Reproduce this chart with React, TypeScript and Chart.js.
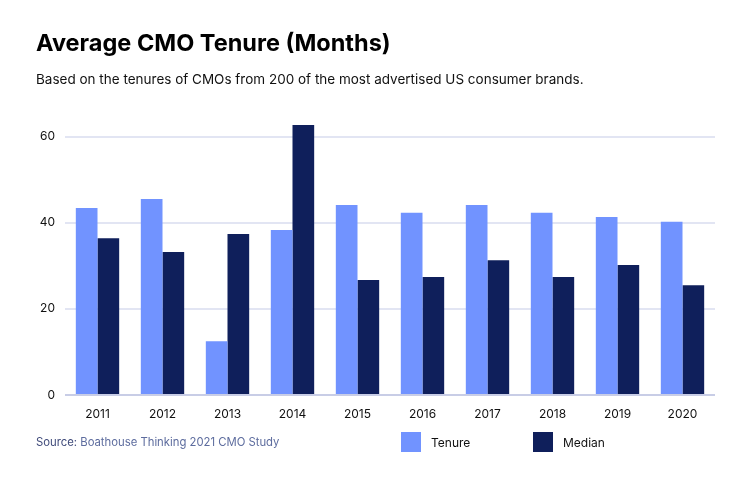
import React, { useEffect, useRef } from "react";
import { Chart, registerables } from "chart.js";

Chart.register(...registerables);

const years = ["2011", "2012", "2013", "2014", "2015", "2016", "2017", "2018", "2019", "2020"];
const tenure = [43.4, 45.5, 12.5, 38.3, 44.1, 42.3, 44.1, 42.3, 41.3, 40.2];
const median = [36.4, 33.2, 37.4, 62.7, 26.7, 27.4, 31.3, 27.4, 30.2, 25.5];
const yTicks = [0, 20, 40, 60];
const seriesNames = ["Tenure", "Median"];
const seriesColors = ["#7193FF", "#0F1F5B"];

const FONT = "Inter, 'Noto Sans', sans-serif";

export default function App() {
  const ref = useRef<HTMLCanvasElement>(null);

  useEffect(() => {
    document.body.style.margin = "0";
    const chart = new Chart(ref.current!, {
      type: "bar",
      data: {
        labels: years,
        datasets: [
          { label: seriesNames[0], data: tenure, backgroundColor: seriesColors[0], barPercentage: 1, categoryPercentage: 0.667 },
          { label: seriesNames[1], data: median, backgroundColor: seriesColors[1], barPercentage: 1, categoryPercentage: 0.667 },
        ],
      },
      options: {
        animation: false,
        responsive: false,
        maintainAspectRatio: false,
        layout: { padding: { left: 30, right: 35, top: 115, bottom: 54 } },
        plugins: { legend: { display: false }, tooltip: { enabled: false }, title: { display: false } },
        scales: {
          x: {
            grid: { display: false },
            border: { display: false },
            ticks: { color: "#111", font: { family: FONT, size: 12 }, padding: 4 },
            afterFit: (s: any) => { s.height = 28; },
          },
          y: {
            min: 0,
            max: 65,
            afterBuildTicks: (s: any) => { s.ticks = yTicks.map((v) => ({ value: v })); },
            grid: {
              color: (c: any) => (c.tick && c.tick.value === 0 ? "#C8CDE6" : "#E2E5F3"),
              lineWidth: 2,
              drawTicks: false,
            },
            border: { display: false },
            ticks: { color: "#111", font: { family: FONT, size: 12 }, padding: 10 },
            afterFit: (s: any) => { s.width = 35; },
          },
        },
      },
    });
    return () => chart.destroy();
  }, []);

  return (
    <div style={{ position: "fixed", left: 0, top: 0, width: 750, height: 477, background: "#fff", fontFamily: FONT }}>
      <canvas ref={ref} width={750} height={477} style={{ position: "absolute", left: 0, top: 0 }} />
      <div style={{ position: "absolute", left: 36, top: 28, fontSize: 23.5, fontWeight: 700, color: "#000" }}>
        Average CMO Tenure (Months)
      </div>
      <div style={{ position: "absolute", left: 36, top: 71, fontSize: 13.5, color: "#111" }}>
        Based on the tenures of CMOs from 200 of the most advertised US consumer brands.
      </div>
      <div style={{ position: "absolute", left: 36, top: 435, fontSize: 11.3, color: "#5D6C9E" }}>
        <span style={{ color: "#3F4A7A" }}>Source:</span> Boathouse Thinking 2021 CMO Study
      </div>
      {seriesNames.map((n, i) => (
        <div key={n} style={{ position: "absolute", left: 401 + i * 132, top: 432, display: "flex", alignItems: "center" }}>
          <div style={{ width: 20, height: 20, background: seriesColors[i] }} />
          <span style={{ marginLeft: 10, fontSize: 12, color: "#111" }}>{n}</span>
        </div>
      ))}
    </div>
  );
}
